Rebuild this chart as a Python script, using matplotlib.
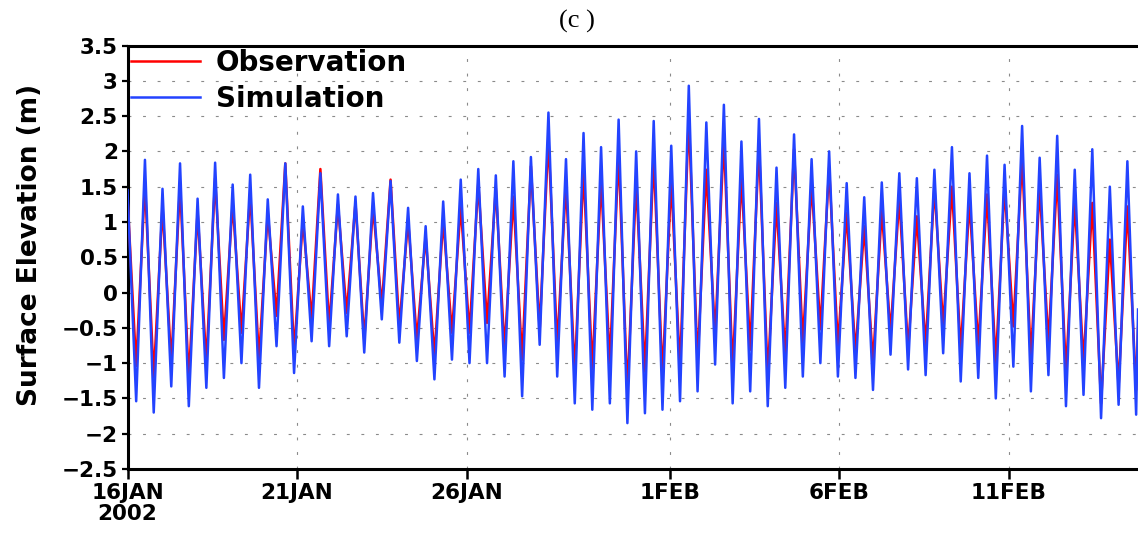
import numpy as np
import matplotlib
matplotlib.use("Agg")
import matplotlib.pyplot as plt
from matplotlib.ticker import FixedLocator, FixedFormatter

# ---------------- data ----------------
# time axis: days after 16 JAN 2002 00:00
t_start = 0.0
t_end = 29.81
t_first_low = 0.256        # time of first low water (days)
half_period = 0.25875      # spacing between successive low / high waters (days)

# Simulation (blue): low-water and high-water levels (m), chronological
sim_start = 1.45
sim_low = [-1.54, -1.70, -1.33, -1.61, -1.35, -1.21, -1.00, -1.35, -0.76, -1.14,
           -0.69, -0.76, -0.62, -0.85, -0.38, -0.71, -0.97, -1.23, -0.95, -1.00,
           -1.00, -1.19, -1.47, -0.74, -1.19, -1.57, -1.66, -1.57, -1.85,
           -1.71, -1.66, -1.54, -1.40, -1.02, -1.57, -1.40, -1.61, -1.35, -1.19,
           -1.00, -1.19, -1.21, -1.38, -0.88, -1.09, -1.17, -0.86, -1.26, -1.21,
           -1.50, -1.05, -1.40, -1.17, -1.61, -1.45, -1.78, -1.59, -1.73]
sim_high = [1.88, 1.47, 1.83, 1.33, 1.84, 1.53, 1.67, 1.32, 1.83, 1.22,
            1.69, 1.39, 1.36, 1.41, 1.58, 1.20, 0.94, 1.29, 1.60,
            1.75, 1.66, 1.86, 1.92, 2.55, 1.89, 2.26, 2.06, 2.45, 2.00,
            2.43, 2.08, 2.93, 2.41, 2.66, 2.14, 2.46, 1.77, 2.24, 1.89,
            2.00, 1.55, 1.35, 1.56, 1.69, 1.62, 1.74, 2.06, 1.69,
            1.94, 1.81, 2.36, 1.91, 2.22, 1.74, 2.03, 1.50, 1.86]
sim_end = -0.24

# Observation (red)
obs_start = 1.35
obs_low = [-1.04, -1.20, -1.00, -1.23, -1.00, -0.67, -0.57, -0.95, -0.33, -0.85,
           -0.38, -0.48, -0.29, -0.67, -0.19, -0.48, -0.67, -0.90, -0.57, -0.57,
           -0.43, -0.81, -0.95, -0.53, -0.76, -1.14, -1.09, -1.00, -1.42,
           -1.12, -1.19, -1.09, -1.00, -0.62, -1.09, -0.81, -1.19, -0.91, -0.72,
           -0.52, -0.76, -0.86, -1.00, -0.57, -0.81, -0.76, -0.48, -0.83, -0.76,
           -1.00, -0.48, -0.95, -0.72, -1.14, -1.00, -1.57, -1.33, -1.38]
obs_high = [1.55, 1.22, 1.53, 1.15, 1.62, 1.27, 1.41, 1.13, 1.83, 1.03,
            1.75, 1.25, 1.27, 1.22, 1.60, 1.03, 0.80, 1.03, 1.22,
            1.55, 1.48, 1.36, 1.79, 2.19, 1.55, 1.74, 1.60, 1.98, 1.58,
            1.93, 1.60, 2.50, 1.74, 2.19, 1.65, 2.10, 1.27, 2.03, 1.55,
            1.77, 1.13, 0.94, 1.17, 1.34, 1.08, 1.50, 1.50, 1.29,
            1.39, 1.50, 1.91, 1.50, 1.67, 1.29, 1.27, 0.75, 1.22]
obs_end = -0.50

xtick_days = [0, 5, 10, 16, 21, 26]
xtick_labels = ["16JAN\n2002", "21JAN", "26JAN", "1FEB", "6FEB", "11FEB"]
ytick_values = [-2.5, -2.0, -1.5, -1.0, -0.5, 0.0, 0.5, 1.0, 1.5, 2.0, 2.5, 3.0, 3.5]
ytick_labels = ["\u22122.5", "\u22122", "\u22121.5", "\u22121", "\u22120.5", "0",
                "0.5", "1", "1.5", "2", "2.5", "3", "3.5"]


def build(start, lows, highs, end):
    vals = []
    for i, lo in enumerate(lows):
        vals.append(lo)
        if i < len(highs):
            vals.append(highs[i])
    n = len(vals)
    times = t_first_low + half_period * np.arange(n)
    t = np.concatenate([[t_start], times, [t_end]])
    v = np.concatenate([[start], vals, [end]])
    return t, v


t_obs, v_obs = build(obs_start, obs_low, obs_high, obs_end)
t_sim, v_sim = build(sim_start, sim_low, sim_high, sim_end)

# ---------------- figure ----------------
W, H = 1138, 534
fig = plt.figure(figsize=(W / 100, H / 100), dpi=100)
ax = fig.add_axes([127.5 / W, 1 - 469 / H, (1144.5 - 127.5) / W, (469 - 45.5) / H])

ax.plot(t_obs, v_obs, color="#ff0000", lw=1.8, label="Observation", zorder=3,
        solid_joinstyle="round")
ax.plot(t_sim, v_sim, color="#2343ff", lw=1.8, label="Simulation", zorder=4,
        solid_joinstyle="round")

ax.set_xlim(0, 30)
ax.set_ylim(-2.5, 3.5)

ax.xaxis.set_major_locator(FixedLocator(xtick_days))
ax.xaxis.set_major_formatter(FixedFormatter(xtick_labels))
ax.yaxis.set_major_locator(FixedLocator(ytick_values))
ax.yaxis.set_major_formatter(FixedFormatter(ytick_labels))

ax.grid(True, color="#8a8a8a", lw=0.8, linestyle=(0, (2.6, 10.5)), zorder=1)

for s in ax.spines.values():
    s.set_linewidth(2.2)
    s.set_color("black")

ax.tick_params(axis="y", direction="out", length=4, width=1.6, pad=3,
               labelsize=15.5)
ax.tick_params(axis="x", direction="out", length=7, width=1.8, pad=3)
for lab in ax.get_yticklabels():
    lab.set_fontweight("bold")
    lab.set_family("DejaVu Sans")
for lab in ax.get_xticklabels():
    lab.set_family("DejaVu Sans")
    lab.set_fontsize(15.5)
    lab.set_fontweight("bold")
    lab.set_linespacing(1.05)
    lab.set_horizontalalignment("center")

ax.set_ylabel("Surface Elevation (m)", fontsize=19, fontweight="bold",
              family="DejaVu Sans")
ax.yaxis.set_label_coords(-0.083, 0.53)

leg = ax.legend(loc="upper left", bbox_to_anchor=(0.0, 1.0), frameon=False,
                borderaxespad=0.0, borderpad=0.12, handlelength=2.5,
                handletextpad=0.55, labelspacing=0.28,
                prop={"family": "DejaVu Sans", "size": 20, "weight": "bold"})
for line in leg.get_lines():
    line.set_linewidth(1.8)

fig.text(577 / W, 1 - 21 / H, "(c )", ha="center", va="center",
         family=["Liberation Serif", "DejaVu Serif"], fontsize=19)

fig.savefig("out.png", dpi=100)
